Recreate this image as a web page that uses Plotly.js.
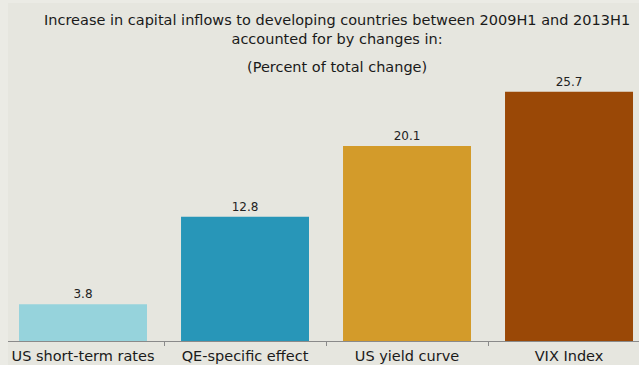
<!DOCTYPE html>
<html>
<head>
<meta charset="utf-8">
<script src="https://cdn.plot.ly/plotly-3.0.1.min.js"></script>
<style>html,body{margin:0;padding:0;background:#e6e6df;}#chart{width:639px;height:365px;}</style>
</head>
<body>
<div id="chart"></div>
<script>
const categories = ["US short-term rates", "QE-specific effect", "US yield curve", "VIX Index"];
const values = [3.8, 12.8, 20.1, 25.7];
const valueLabels = ["3.8", "12.8", "20.1", "25.7"];
const barColors = ["#96d3dc", "#2896b8", "#d39b2a", "#9a4806"];
const titleLines = ["Increase in capital inflows to developing countries between 2009H1 and 2013H1", "accounted for by changes in:"];
const subtitle = "(Percent of total change)";

const font = "'DejaVu Sans', sans-serif";
const trace = {
  type: "bar",
  x: categories,
  y: values,
  text: valueLabels,
  textposition: "outside",
  textfont: {family: font, size: 12, color: "#222222"},
  cliponaxis: false,
  marker: {color: barColors, line: {width: 0}},
  hoverinfo: "skip"
};
const layout = {
  width: 639, height: 365,
  margin: {l: 8, r: 0, t: 50, b: 24, pad: 0},
  paper_bgcolor: "#e6e6df",
  plot_bgcolor: "#e6e6df",
  showlegend: false,
  bargap: 0.21,
  font: {family: font, color: "#222222"},
  xaxis: {
    type: "category",
    range: [-0.463, 3.432],
    showline: true, linecolor: "#8a8a8a", linewidth: 1,
    ticks: "outside", tickson: "boundaries", ticklen: 4, tickcolor: "#8a8a8a", tickwidth: 1,
    ticklabelstandoff: 2,
    tickfont: {family: font, size: 14.5, color: "#1a1a1a"},
    showgrid: false, zeroline: false, fixedrange: true
  },
  yaxis: {
    range: [0, 30], visible: false, showgrid: false, zeroline: false, fixedrange: true
  },
  shapes: [
    {type: "rect", layer: "below", xref: "paper", yref: "paper", x0: -8 / 631, x1: 0, y0: -24 / 291, y1: 1 + 50 / 291, line: {width: 0}, fillcolor: "#ebebe5"},
    {type: "rect", layer: "below", xref: "paper", yref: "paper", x0: -8 / 631, x1: 1, y0: 1 + 47 / 291, y1: 1 + 50 / 291, line: {width: 0}, fillcolor: "#ebebe5"}
  ],
  annotations: [
    {text: titleLines.join("<br>"), xref: "paper", yref: "paper", x: 0.5214, y: (341 - 29.5) / 291, xanchor: "center", yanchor: "middle", align: "center", showarrow: false, font: {family: font, size: 14.5, color: "#1a1a1a"}},
    {text: subtitle, xref: "paper", yref: "paper", x: 0.5214, y: (341 - 67) / 291, xanchor: "center", yanchor: "middle", showarrow: false, font: {family: font, size: 14.5, color: "#1a1a1a"}}
  ]
};
Plotly.newPlot("chart", [trace], layout, {displayModeBar: false, staticPlot: true});
</script>
</body>
</html>
